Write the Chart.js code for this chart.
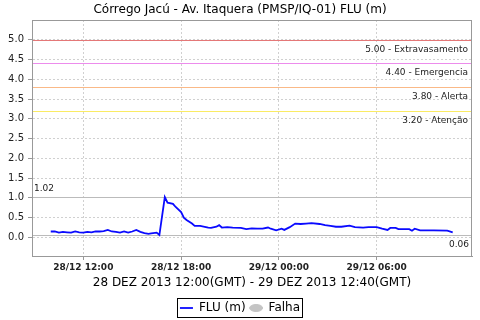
<!DOCTYPE html>
<html>
<head>
<meta charset="utf-8">
<script src="https://cdn.jsdelivr.net/npm/chart.js@4.4.1/dist/chart.umd.min.js"></script>
<style>
  html, body { margin: 0; padding: 0; background: #fff; }
</style>
</head>
<body>
<canvas id="chart" width="480" height="320"></canvas>
<script>
var chartTitle = 'Córrego Jacú - Av. Itaquera (PMSP/IQ-01) FLU (m)';
var periodLabel = '28 DEZ 2013 12:00(GMT) - 29 DEZ 2013 12:40(GMT)';

// readings, local time
var times = [
  '28/12 10:00', '28/12 10:15', '28/12 10:30', '28/12 10:45', '28/12 11:00', '28/12 11:15',
  '28/12 11:30', '28/12 11:45', '28/12 12:00', '28/12 12:15', '28/12 12:30', '28/12 12:45',
  '28/12 13:00', '28/12 13:15', '28/12 13:30', '28/12 13:45', '28/12 14:00', '28/12 14:15',
  '28/12 14:30', '28/12 14:45', '28/12 15:00', '28/12 15:15', '28/12 15:30', '28/12 15:45',
  '28/12 16:00', '28/12 16:10', '28/12 16:30', '28/12 16:40', '28/12 17:00', '28/12 17:10',
  '28/12 17:30', '28/12 17:40', '28/12 18:00', '28/12 18:10', '28/12 18:20', '28/12 18:40',
  '28/12 18:50', '28/12 19:10', '28/12 19:40', '28/12 19:50', '28/12 20:10', '28/12 20:20',
  '28/12 20:30', '28/12 20:50', '28/12 21:10', '28/12 21:40', '28/12 22:00', '28/12 22:20',
  '28/12 22:40', '28/12 23:00', '28/12 23:20', '28/12 23:30', '28/12 23:50', '29/12 00:10',
  '29/12 00:20', '29/12 00:40', '29/12 01:00', '29/12 01:20', '29/12 01:40', '29/12 02:00',
  '29/12 02:30', '29/12 02:50', '29/12 03:10', '29/12 03:30', '29/12 03:50', '29/12 04:20',
  '29/12 04:40', '29/12 05:10', '29/12 05:30', '29/12 06:00', '29/12 06:20', '29/12 06:40',
  '29/12 06:50', '29/12 07:10', '29/12 07:20', '29/12 08:00', '29/12 08:10', '29/12 08:20',
  '29/12 08:40', '29/12 09:30', '29/12 10:20', '29/12 10:40'
];
var flu = [
  0.15, 0.15, 0.12, 0.14, 0.13, 0.12,
  0.15, 0.13, 0.12, 0.14, 0.13, 0.15,
  0.15, 0.16, 0.19, 0.15, 0.14, 0.12,
  0.15, 0.12, 0.15, 0.19, 0.14, 0.11,
  0.09, 0.10, 0.12, 0.06, 1.02, 0.88,
  0.85, 0.77, 0.64, 0.50, 0.44, 0.35,
  0.29, 0.29, 0.25, 0.24, 0.27, 0.31,
  0.25, 0.26, 0.25, 0.24, 0.21, 0.23,
  0.22, 0.22, 0.25, 0.22, 0.18, 0.22,
  0.19, 0.26, 0.35, 0.34, 0.35, 0.36,
  0.34, 0.31, 0.29, 0.27, 0.27, 0.30,
  0.26, 0.25, 0.26, 0.26, 0.22, 0.19,
  0.24, 0.24, 0.21, 0.21, 0.17, 0.22,
  0.18, 0.18, 0.17, 0.13
];
var fluMax = 1.02;
var fluMin = 0.06;

var levelValues = [5.00, 4.40, 3.80, 3.20];
var levelNames = ['Extravasamento', 'Emergencia', 'Alerta', 'Atenção'];

var xTickLabels = ['28/12 12:00', '28/12 18:00', '29/12 00:00', '29/12 06:00'];
var yTickValues = [0, 0.5, 1.0, 1.5, 2.0, 2.5, 3.0, 3.5, 4.0, 4.5, 5.0];

var levelColors = ['rgb(228,120,120)', 'rgb(236,140,236)', 'rgb(250,185,135)', 'rgb(250,235,100)'];
var fontName = '"DejaVu Sans", sans-serif';
var plotBottom = 256;

// hours counted from 28/12 00:00
function toHours(s) {
  var day = parseInt(s.slice(0, 2), 10);
  var hh = parseInt(s.slice(6, 8), 10);
  var mm = parseInt(s.slice(9, 11), 10);
  return (day - 28) * 24 + hh + mm / 60;
}

var points = times.map(function(t, i) {
  return { x: toHours(t), y: flu[i] };
});

function hLine(ctx, area, py, color) {
  ctx.strokeStyle = color;
  ctx.beginPath();
  ctx.moveTo(area.left, py);
  ctx.lineTo(area.right, py);
  ctx.stroke();
}

var levelsPlugin = {
  id: 'levels',
  beforeDatasetsDraw: function(chart) {
    var ctx = chart.ctx;
    var area = chart.chartArea;
    var y = chart.scales.y;
    ctx.save();
    ctx.lineWidth = 1;
    ctx.setLineDash([]);
    ctx.font = '9px ' + fontName;
    ctx.textBaseline = 'middle';
    ctx.fillStyle = '#222';

    levelValues.forEach(function(v, i) {
      var py = Math.round(y.getPixelForValue(v)) + 0.5;
      hLine(ctx, area, py, levelColors[i]);
      ctx.textAlign = 'right';
      ctx.fillText(v.toFixed(2) + ' - ' + levelNames[i], area.right - 4, py + 9);
    });

    // max and min of the series
    var pMax = Math.round(y.getPixelForValue(fluMax)) + 0.5;
    var pMin = Math.round(y.getPixelForValue(fluMin)) + 0.5;
    hLine(ctx, area, pMax, '#bbbbbb');
    hLine(ctx, area, pMin, '#bbbbbb');
    ctx.textAlign = 'left';
    ctx.fillText(fluMax.toFixed(2), area.left + 2, pMax - 9);
    ctx.textAlign = 'right';
    ctx.fillText(fluMin.toFixed(2), area.right - 3, pMin + 9);
    ctx.restore();
  },
  afterDraw: function(chart) {
    var ctx = chart.ctx;
    var area = chart.chartArea;
    ctx.save();
    ctx.strokeStyle = '#999999';
    ctx.lineWidth = 1;
    ctx.strokeRect(area.left + 0.5, area.top + 0.5, area.right - area.left - 1, area.bottom - area.top);

    // frame round the legend
    var boxes = chart.legend.legendHitBoxes;
    var l = Infinity, r = -Infinity, t = Infinity, b = -Infinity;
    boxes.forEach(function(h) {
      l = Math.min(l, h.left);
      r = Math.max(r, h.left + h.width);
      t = Math.min(t, h.top);
      b = Math.max(b, h.top + h.height);
    });
    ctx.strokeStyle = '#000';
    ctx.strokeRect(Math.round(l) - 2.5, Math.round(t) - 3.5, Math.round(r - l) + 5, Math.round(b - t) + 7);
    ctx.restore();
  }
};

var chart = new Chart(document.getElementById('chart'), {
  type: 'line',
  data: {
    datasets: [{
      label: 'FLU (m)',
      data: points,
      borderColor: '#0a0aff',
      backgroundColor: '#0a0aff',
      borderWidth: 1.8,
      pointRadius: 0,
      pointStyle: 'line',
      tension: 0,
      fill: false
    }, {
      label: 'Falha',
      data: [],
      borderColor: '#c4c4c4',
      backgroundColor: '#c4c4c4',
      pointStyle: 'circle',
      showLine: false
    }]
  },
  options: {
    responsive: false,
    animation: false,
    layout: { padding: { left: 8, right: 8, top: 0, bottom: -4 } },
    plugins: {
      title: {
        display: true,
        text: chartTitle,
        color: '#000',
        font: { family: fontName, size: 12, weight: 'normal' },
        padding: { top: 3, bottom: 2.6 }
      },
      legend: {
        position: 'bottom',
        labels: {
          color: '#000',
          font: { family: fontName, size: 12 },
          usePointStyle: true,
          pointStyleWidth: 13,
          boxHeight: 5,
          padding: 4
        }
      },
      tooltip: { enabled: false }
    },
    scales: {
      x: {
        type: 'linear',
        min: 8.85,
        max: 35.85,
        afterBuildTicks: function(s) {
          s.ticks = xTickLabels.map(function(t) { return { value: toHours(t) }; });
        },
        afterFit: function(s) {
          s.height = 324 - s.chart.legend.height - plotBottom;
          s.paddingLeft = 0;
          s.paddingRight = 0;
        },
        ticks: {
          color: '#222',
          font: { family: fontName, size: 9, weight: 'bold' },
          padding: 2,
          maxRotation: 0,
          callback: function(value, index) { return xTickLabels[index]; }
        },
        grid: { color: '#d0d0d0', tickLength: 4, tickColor: '#999' },
        border: { color: '#999', dash: [2, 2] },
        title: {
          display: true,
          text: periodLabel,
          color: '#000',
          font: { family: fontName, size: 12 },
          padding: { top: 0, bottom: 8 }
        }
      },
      y: {
        min: -0.47,
        max: 5.5,
        afterBuildTicks: function(s) {
          s.ticks = yTickValues.map(function(v) { return { value: v }; });
        },
        afterFit: function(s) {
          s.width = 24;
          s.paddingTop = 0;
          s.paddingBottom = 0;
        },
        ticks: {
          color: '#222',
          font: { family: fontName, size: 10 },
          padding: 4,
          callback: function(value) { return value.toFixed(1); }
        },
        grid: { color: '#d0d0d0', tickLength: 4, tickColor: '#999' },
        border: { color: '#999', dash: [2, 2] }
      }
    }
  },
  plugins: [levelsPlugin]
});
</script>
</body>
</html>
